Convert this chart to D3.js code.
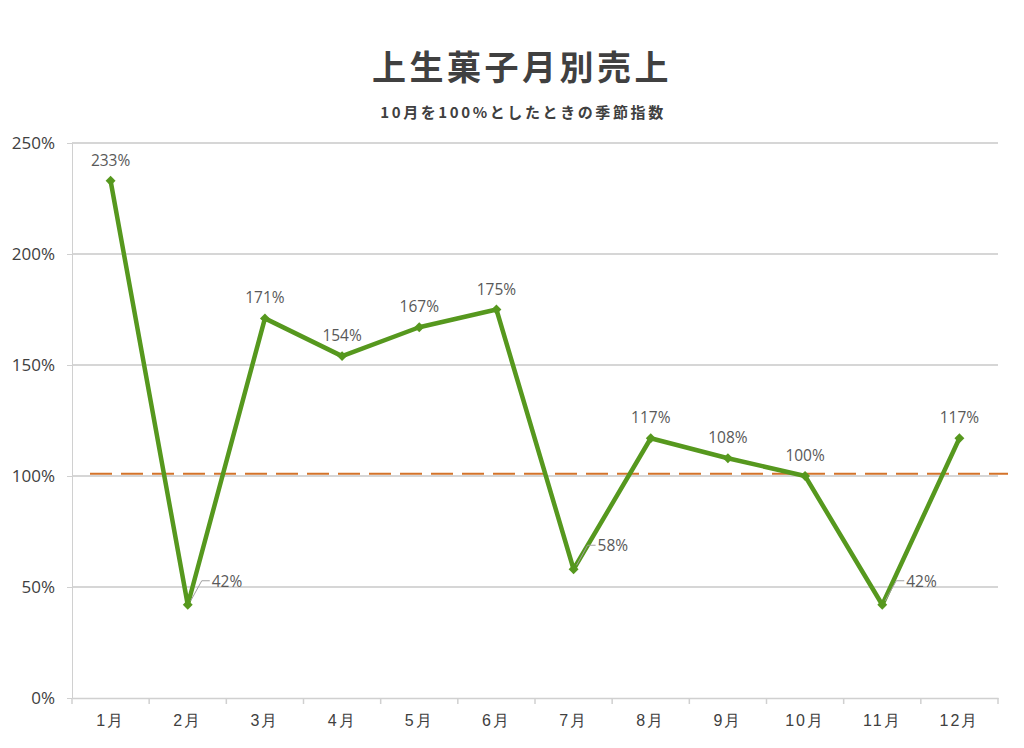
<!DOCTYPE html>
<html lang="ja">
<head>
  <meta charset="UTF-8">
  <title>上生菓子月別売上</title>
  <style>
    body { margin: 0; background: #fff; }
    svg { display: block; font-family: "Noto Sans CJK JP", "Noto Sans", sans-serif; }
  </style>
</head>
<body>
  <script src="https://d3js.org/d3.v7.min.js"></script>
  <script>
    'use strict';

    const months = ['1月', '2月', '3月', '4月', '5月', '6月', '7月', '8月', '9月', '10月', '11月', '12月'];
    const indexValues = [233, 42, 171, 154, 167, 175, 58, 117, 108, 100, 42, 117];
    const yTicks = [0, 50, 100, 150, 200, 250];
    // labels that sit to the right with a small leader line
    const sideLabels = ['2月', '7月', '11月'];
    const baseValue = 101;

    const width = 1024;
    const height = 748;
    const plotLeft = 72, plotRight = 998, plotTop = 143, plotBottom = 698;

    const svg = d3.select('body').append('svg')
      .attr('width', width)
      .attr('height', height);

    const x = d3.scaleBand().domain(months).range([plotLeft, plotRight]);
    const y = d3.scaleLinear().domain([0, 250]).range([plotBottom, plotTop]);

    // title
    svg.append('text')
      .attr('x', 522).attr('y', 80)
      .attr('text-anchor', 'middle')
      .attr('font-size', 34).attr('font-weight', 'bold')
      .attr('letter-spacing', 3.5)
      .attr('fill', '#404040')
      .text('上生菓子月別売上');
    svg.append('text')
      .attr('x', 523).attr('y', 118)
      .attr('text-anchor', 'middle')
      .attr('font-size', 15).attr('font-weight', 'bold')
      .attr('letter-spacing', 2.6)
      .attr('fill', '#404040')
      .text('10月を100%としたときの季節指数');

    // gridlines
    svg.append('g').selectAll('line')
      .data(yTicks.filter(d => d > 0))
      .join('line')
      .attr('x1', plotLeft).attr('x2', plotRight)
      .attr('y1', d => y(d)).attr('y2', d => y(d))
      .attr('stroke', '#c8c8c8').attr('stroke-width', 1.5);

    // y axis
    const yAxis = svg.append('g')
      .attr('transform', `translate(${plotLeft},0)`)
      .call(d3.axisLeft(y).tickValues(yTicks).tickFormat(d => d + '%').tickSize(5).tickPadding(12));
    yAxis.select('.domain').attr('stroke', '#d0d0d0');
    yAxis.selectAll('.tick line').attr('stroke', '#d0d0d0');
    yAxis.selectAll('.tick text')
      .attr('font-size', 17).attr('fill', '#404040')
      .attr('font-family', '"Open Sans", "Noto Sans", sans-serif');

    // x axis
    const xAxis = svg.append('g')
      .attr('transform', `translate(0,${plotBottom})`)
      .call(d3.axisBottom(x).tickSize(0).tickPadding(17));
    xAxis.select('.domain').attr('stroke', '#d0d0d0').attr('stroke-width', 1.5);
    xAxis.selectAll('.tick text').attr('font-size', 16).attr('fill', '#404040').attr('letter-spacing', 2);
    svg.append('g').selectAll('line')
      .data(months.concat(['end']))
      .join('line')
      .attr('x1', (d, i) => plotLeft + i * x.step()).attr('x2', (d, i) => plotLeft + i * x.step())
      .attr('y1', plotBottom).attr('y2', plotBottom + 6)
      .attr('stroke', '#d0d0d0').attr('stroke-width', 1.5);

    // reference dashed line
    svg.append('line')
      .attr('x1', 90).attr('x2', 1008)
      .attr('y1', y(baseValue)).attr('y2', y(baseValue))
      .attr('stroke', '#d4732a').attr('stroke-width', 2)
      .attr('stroke-dasharray', '22,9');

    const cx = d => x(d) + x.bandwidth() / 2;
    const pts = months.map((m, i) => ({ m, v: indexValues[i] }));

    // line
    svg.append('path')
      .datum(pts)
      .attr('fill', 'none')
      .attr('stroke', '#56981e')
      .attr('stroke-width', 4.5)
      .attr('stroke-linejoin', 'round')
      .attr('d', d3.line().x(d => cx(d.m)).y(d => y(d.v)));

    // markers
    svg.append('g').selectAll('path')
      .data(pts)
      .join('path')
      .attr('transform', d => `translate(${cx(d.m)},${y(d.v)}) rotate(45)`)
      .attr('d', 'M-3.5,-3.5H3.5V3.5H-3.5Z')
      .attr('fill', '#56981e');

    // leader lines
    svg.append('g').selectAll('path')
      .data(pts.filter(d => sideLabels.includes(d.m)))
      .join('path')
      .attr('d', d => `M${cx(d.m) + 3},${y(d.v) - 4}L${cx(d.m) + 14},${y(d.v) - 24}H${cx(d.m) + 22}`)
      .attr('fill', 'none')
      .attr('stroke', '#a0a0a0').attr('stroke-width', 1);

    // data labels
    svg.append('g').selectAll('text')
      .data(pts)
      .join('text')
      .attr('x', d => sideLabels.includes(d.m) ? cx(d.m) + 24 : cx(d.m))
      .attr('y', d => sideLabels.includes(d.m) ? y(d.v) - 18 : y(d.v) - 15)
      .attr('text-anchor', d => sideLabels.includes(d.m) ? 'start' : 'middle')
      .attr('font-size', 15.5)
      .attr('font-family', '"Open Sans", "Noto Sans", sans-serif')
      .attr('fill', '#595959')
      .text(d => d.v + '%');
  </script>
</body>
</html>
